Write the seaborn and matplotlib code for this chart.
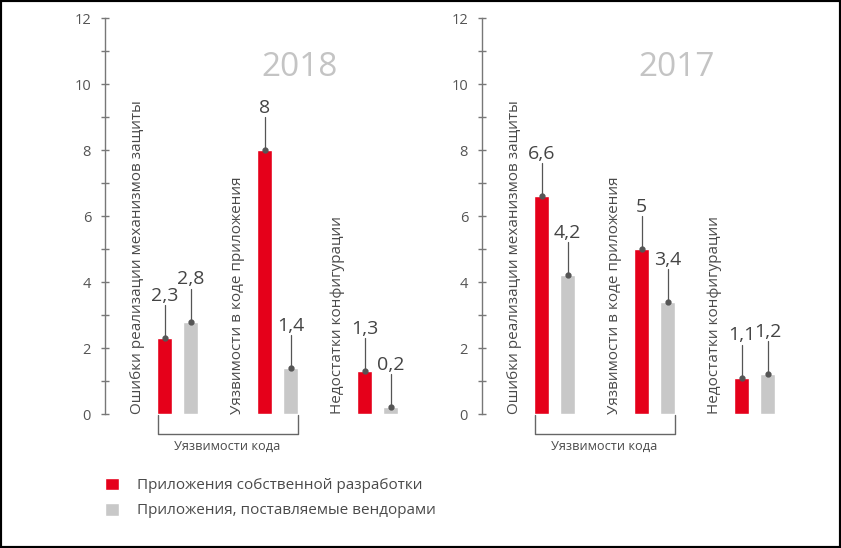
import matplotlib
matplotlib.use("Agg")
import matplotlib.pyplot as plt
import seaborn as sns
import pandas as pd
from matplotlib.patches import Rectangle

categories = ["Ошибки реализации механизмов защиты",
              "Уязвимости в коде приложения",
              "Недостатки конфигурации"]
series = ["Приложения собственной разработки",
          "Приложения, поставляемые вендорами"]
own_2018 = [2.3, 8.0, 1.3]
vendor_2018 = [2.8, 1.4, 0.2]
own_2017 = [6.6, 5.0, 1.1]
vendor_2017 = [4.2, 3.4, 1.2]
years = ["2018", "2017"]
bracket_label = "Уязвимости кода"

RED = "#e5001a"
GRAY = "#c8c8c8"
TXT = "#4a4a4a"
LINE = "#555555"

sns.set_style("white")
plt.rcParams['font.family'] = ['Open Sans', 'DejaVu Sans']


def make_df(own, vendor):
    rows = []
    for c, v in zip(categories, own):
        rows.append({"cat": c, "series": series[0], "value": v})
    for c, v in zip(categories, vendor):
        rows.append({"cat": c, "series": series[1], "value": v})
    return pd.DataFrame(rows)


def fmt(v):
    return f"{v:g}".replace(".", ",")


def draw_panel(ax, df, year, legend):
    sns.barplot(data=df, x="cat", y="value", hue="series", order=categories,
                hue_order=series, palette=[RED, GRAY], width=0.52, gap=0.46,
                legend=legend, ax=ax, saturation=1)
    ax.set_xlim(-0.725, 2.5)
    ax.set_ylim(0, 12)
    ax.set_xlabel("")
    ax.set_ylabel("")
    ax.set_xticks([])
    ax.set_yticks(range(0, 13, 2))
    ax.set_yticks(range(1, 13, 2), minor=True)
    ax.tick_params(axis="y", which="both", direction="inout", length=6,
                   width=1, color="#777777", labelcolor="#555555",
                   labelsize=10.5, pad=7, left=True)
    for s in ["top", "right", "bottom"]:
        ax.spines[s].set_visible(False)
    ax.spines["left"].set_color("#777777")
    ax.spines["left"].set_linewidth(1)
    ax.patch.set_alpha(0)

    # value labels with leader lines
    for cont in ax.containers:
        for bar in cont:
            x = bar.get_x() + bar.get_width() / 2
            h = bar.get_height()
            ax.plot([x, x], [h, h + 1.0], color=LINE, lw=0.9, clip_on=False)
            ax.plot(x, h, "o", ms=3.5, color=LINE, clip_on=False)
            ax.text(x, h + 1.13, fmt(h), ha="center", va="baseline",
                    fontsize=14, color="#444444")

    # rotated category labels
    for i, c in enumerate(categories):
        ax.text(i - 0.4, 0, c, rotation=90, ha="center", va="bottom",
                fontsize=11, color=TXT)

    ax.text(1.225, 10.5, year, ha="center", va="center", fontsize=24,
            color="#c4c4c4")

    # bracket under first two categories
    ax.plot([-0.2, -0.2, 1.2, 1.2], [-0.03, -0.62, -0.62, -0.03],
            color="#666666", lw=1, clip_on=False)
    ax.text(0.5, -0.97, bracket_label, ha="center", va="center", fontsize=9.2,
            color=TXT, clip_on=False)


W, H = 841, 548
fig = plt.figure(figsize=(W / 100, H / 100), dpi=100)
ax1 = fig.add_axes([105 / W, (H - 414) / H, 322.5 / W, 396 / H])
ax2 = fig.add_axes([482 / W, (H - 414) / H, 322.5 / W, 396 / H])

draw_panel(ax1, make_df(own_2018, vendor_2018), years[0], True)
draw_panel(ax2, make_df(own_2017, vendor_2017), years[1], False)

leg = ax1.legend(loc="upper left", bbox_to_anchor=(91 / W, (H - 464) / H),
                 bbox_transform=fig.transFigure, frameon=False,
                 handlelength=0.9, handleheight=0.9, handletextpad=1.2,
                 labelspacing=0.62, fontsize=11)
for t in leg.get_texts():
    t.set_color(TXT)

fig.patches.append(Rectangle((0, 0), 1, 1, transform=fig.transFigure,
                             fill=False, edgecolor="black", lw=3))

fig.savefig("out.png", dpi=100)
